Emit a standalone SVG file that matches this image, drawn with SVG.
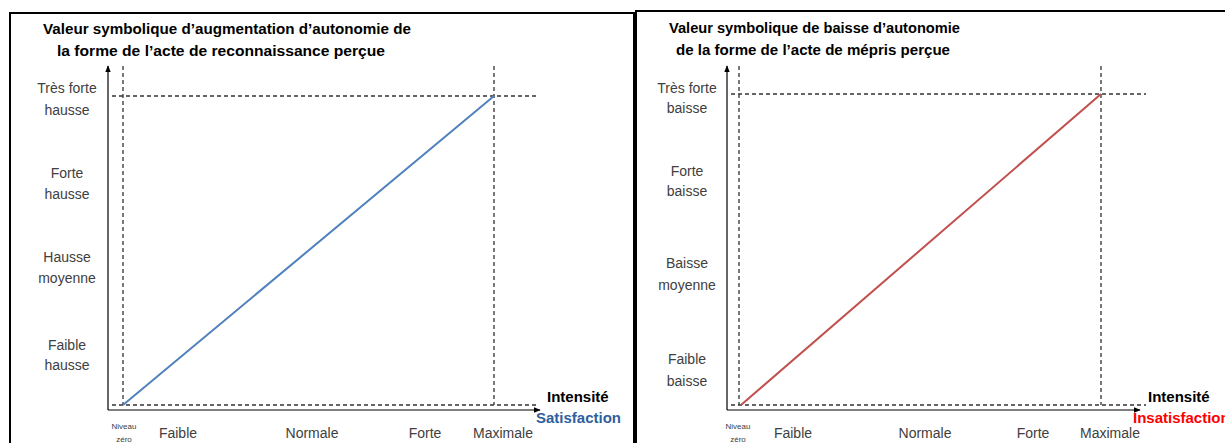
<svg xmlns="http://www.w3.org/2000/svg" width="1225" height="443" viewBox="0 0 1225 443">
<defs>
<style>
.frame{fill:none;stroke:#000;stroke-width:2}
.axis{stroke:#000;stroke-width:1.2;fill:none}
.dash{stroke:#333;stroke-width:1.3;stroke-dasharray:4,3;fill:none}
.t{font-family:"Liberation Sans",Arial,sans-serif;fill:#404040;font-size:14px;text-anchor:middle}
.title{font-family:"Liberation Sans",Arial,sans-serif;fill:#000;font-size:14.5px;font-weight:bold}
.small{font-family:"Liberation Sans",Arial,sans-serif;fill:#404040;font-size:8px;text-anchor:middle}
.bold{font-family:"Liberation Sans",Arial,sans-serif;font-size:15px;font-weight:bold}
</style>
<marker id="arr" viewBox="0 0 10 10" refX="9" refY="5" markerWidth="6" markerHeight="6" orient="auto"><path d="M0,1 L10,5 L0,9 z" fill="#000"/></marker>
</defs>
<rect width="1225" height="443" fill="#fff"/>
<g id="panel-left">
<rect class="frame" x="10" y="13" width="624" height="440"/>
<text class="title" x="43" y="34" textLength="368" lengthAdjust="spacingAndGlyphs">Valeur symbolique d’augmentation d’autonomie de</text>
<text class="title" x="57" y="56" textLength="328" lengthAdjust="spacingAndGlyphs">la forme de l’acte de reconnaissance perçue</text>
<g id="ylabels-left">
<text class="t" x="67" y="93">Très forte</text><text class="t" x="67" y="115">hausse</text>
<text class="t" x="67" y="178">Forte</text><text class="t" x="67" y="199">hausse</text>
<text class="t" x="67" y="262">Hausse</text><text class="t" x="67" y="283">moyenne</text>
<text class="t" x="67" y="350">Faible</text><text class="t" x="67" y="370">hausse</text>
</g>
<g id="xlabels-left">
<text class="small" x="124" y="429">Niveau</text><text class="small" x="124" y="442">zéro</text>
<text class="t" x="178" y="438">Faible</text>
<text class="t" x="312" y="438">Normale</text>
<text class="t" x="425" y="438">Forte</text>
<text class="t" x="503" y="438">Maximale</text>
<text class="bold" x="547" y="402" fill="#000">Intensité</text>
<text class="bold" x="536" y="423" fill="#2F5F9E">Satisfaction</text>
</g>
</g>
<g id="panel-right">
<rect class="frame" x="636" y="11" width="600" height="442"/>
<text class="title" x="669" y="33" textLength="291" lengthAdjust="spacingAndGlyphs">Valeur symbolique de baisse d’autonomie</text>
<text class="title" x="676" y="55" textLength="274" lengthAdjust="spacingAndGlyphs">de la forme de l’acte de mépris perçue</text>
<g id="ylabels-right">
<text class="t" x="687" y="93">Très forte</text><text class="t" x="687" y="113">baisse</text>
<text class="t" x="687" y="176">Forte</text><text class="t" x="687" y="196">baisse</text>
<text class="t" x="687" y="268">Baisse</text><text class="t" x="687" y="290">moyenne</text>
<text class="t" x="687" y="364">Faible</text><text class="t" x="687" y="386">baisse</text>
</g>
<g id="xlabels-right">
<text class="small" x="738" y="429">Niveau</text><text class="small" x="738" y="442">zéro</text>
<text class="t" x="793" y="438">Faible</text>
<text class="t" x="925" y="438">Normale</text>
<text class="t" x="1033" y="438">Forte</text>
<text class="t" x="1110" y="438">Maximale</text>
<text class="bold" x="1148" y="402" fill="#000">Intensité</text>
<text class="bold" x="1133" y="423" fill="#FF0000">Insatisfaction</text>
</g>
</g>
<g id="connectors">
<line class="axis" x1="108" y1="410" x2="108" y2="66" marker-end="url(#arr)"/>
<line class="axis" x1="108" y1="410" x2="540" y2="410" marker-end="url(#arr)"/>
<line class="dash" x1="123" y1="66" x2="123" y2="405"/>
<line class="dash" x1="112" y1="96" x2="538" y2="96"/>
<line class="dash" x1="494" y1="66" x2="494" y2="405"/>
<line class="dash" x1="112" y1="405" x2="538" y2="405"/>
<line x1="123" y1="405" x2="494" y2="96" stroke="#4F81BD" stroke-width="2"/>
<line class="axis" x1="727" y1="410" x2="727" y2="66" marker-end="url(#arr)"/>
<line class="axis" x1="727" y1="410" x2="1140" y2="410" marker-end="url(#arr)"/>
<line class="dash" x1="739" y1="66" x2="739" y2="405"/>
<line class="dash" x1="731" y1="94" x2="1146" y2="94"/>
<line class="dash" x1="1101" y1="66" x2="1101" y2="405"/>
<line class="dash" x1="731" y1="405" x2="1146" y2="405"/>
<line x1="741" y1="405" x2="1101" y2="94" stroke="#C0504D" stroke-width="2"/>
</g>
</svg>
